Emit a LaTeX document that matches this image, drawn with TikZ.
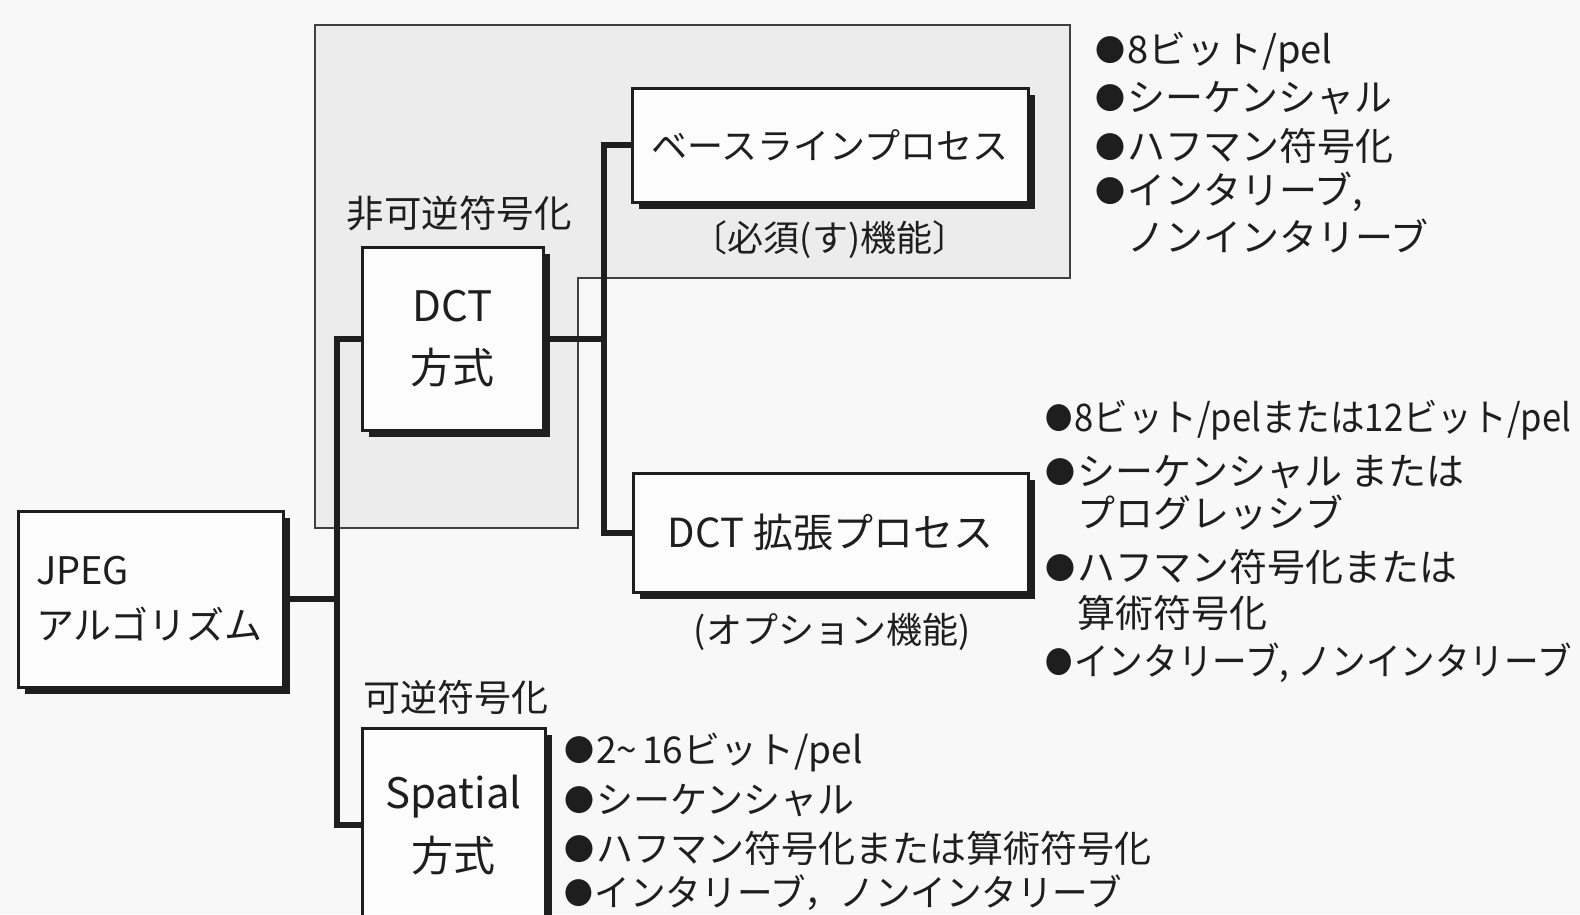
\documentclass[tikz,border=0pt]{standalone}
\usepackage{fontspec}
\setmainfont{Noto Sans CJK JP}
\usetikzlibrary{shadows}
\definecolor{ink}{HTML}{1E1E1E}
\definecolor{bgc}{HTML}{F8F8F8}
\definecolor{regc}{HTML}{ECECEC}
\definecolor{boxc}{HTML}{FCFCFC}
\newcommand{\setfs}[2]{\fontsize{#1}{#2}\selectfont}
\newcommand{\bul}{\raisebox{2pt}{\setfs{30}{30}●}\hspace{2pt}}
\begin{document}
\begin{tikzpicture}[x=1pt,y=-1pt,
  box/.style={draw=ink, line width=3pt, fill=boxc, text=ink, inner sep=0pt, align=center,
    drop shadow={shadow xshift=6.5pt, shadow yshift=-6.5pt, opacity=1, fill=ink}},
  conn/.style={draw=ink, line width=6pt},
  region/.style={draw=ink!85, line width=2pt, fill=regc},
  lbl/.style={text=ink, inner sep=0pt},
  item/.style={text=ink, inner sep=0pt, anchor=west},
]
\useasboundingbox (0,0) rectangle (1580,914);
\clip (0,0) rectangle (1580,914);
\fill[bgc] (0,0) rectangle (1580,914);

% grey region
\draw[region] (315,25) -- (1070,25) -- (1070,278) -- (578,278) -- (578,528) -- (315,528) -- cycle;

% boxes
\node[box, minimum width=265pt, minimum height=176pt, text width=229pt, align=left,
  font={\setfs{38}{55}}] (jpeg) at (150.5,599) {JPEG\\アルゴリズム};
\node[box, minimum width=181pt, minimum height=183pt, font={\setfs{42}{62}}] (dct) at (452.5,338.5) {DCT\\方式};
\node[box, minimum width=183pt, minimum height=194pt, font={\setfs{42}{63}}] (spatial) at (453.5,825) {Spatial\\方式};
\node[box, minimum width=396pt, minimum height=114pt, font={\setfs{36}{40}}] (base) at (830,145) {ベースラインプロセス};
\node[box, minimum width=395pt, minimum height=119pt, font={\setfs{40}{44}}] (ext) at (830.5,532.5) {DCT 拡張プロセス};

% connectors
\coordinate (tk) at (337,0);
\coordinate (bk) at (604,0);
\draw[conn] (jpeg.east) -- (jpeg.east -| tk) |- (dct.west);
\draw[conn] (jpeg.east) -- (jpeg.east -| tk) |- (spatial.west);
\draw[conn] (dct.east) -- (dct.east -| bk) |- (base.west);
\draw[conn] (dct.east) -- (dct.east -| bk) |- (ext.west);

% labels
\node[lbl, font={\setfs{37.5}{40}}] (lossy) at (459,213) {非可逆符号化};
\node[lbl, font={\setfs{37}{40}}] (lossless) at (456,697) {可逆符号化};
\node[lbl, font={\setfs{36}{40}}] (must) at (830,240) {〔必須(す)機能〕};
\node[lbl, font={\setfs{36}{40}}] (opt) at (832,632) {(オプション機能)};

% list 1
\begin{scope}[every node/.style={item, font={\setfs{38}{40}}}]
\node (a1) at (1095,52) {\bul 8ビット/pel};
\node (a2) at (1095,98) {\bul シーケンシャル};
\node (a3) at (1095,146) {\bul ハフマン符号化};
\node (a4) at (1095,192) {\bul インタリーブ,};
\node (a5) at (1127,236) {ノンインタリーブ};
\end{scope}

% list 2
\begin{scope}[every node/.style={item, font={\setfs{38}{40}}}]
\node (b1) at (1045,420) {\scalebox{0.91}[1]{\bul 8ビット/pelまたは12ビット/pel}};
\node (b2) at (1045,472) {\bul シーケンシャル または};
\node (b3) at (1077,513) {プログレッシブ};
\node (b4) at (1045,567) {\bul ハフマン符号化または};
\node (b5) at (1077,613) {算術符号化};
\node (b6) at (1045,663) {\scalebox{0.91}[1]{\bul インタリーブ, ノンインタリーブ}};
\end{scope}

% list 3
\begin{scope}[every node/.style={item, font={\setfs{37}{40}}}]
\node (c1) at (564,752) {\bul 2{\char"007E}\hspace{5pt}16ビット/pel};
\node (c2) at (564,800) {\bul シーケンシャル};
\node (c3) at (564,848) {\bul ハフマン符号化または算術符号化};
\node (c4) at (564,893) {\scalebox{0.96}[1]{\bul インタリーブ，ノンインタリーブ}};
\end{scope}
\end{tikzpicture}
\end{document}
